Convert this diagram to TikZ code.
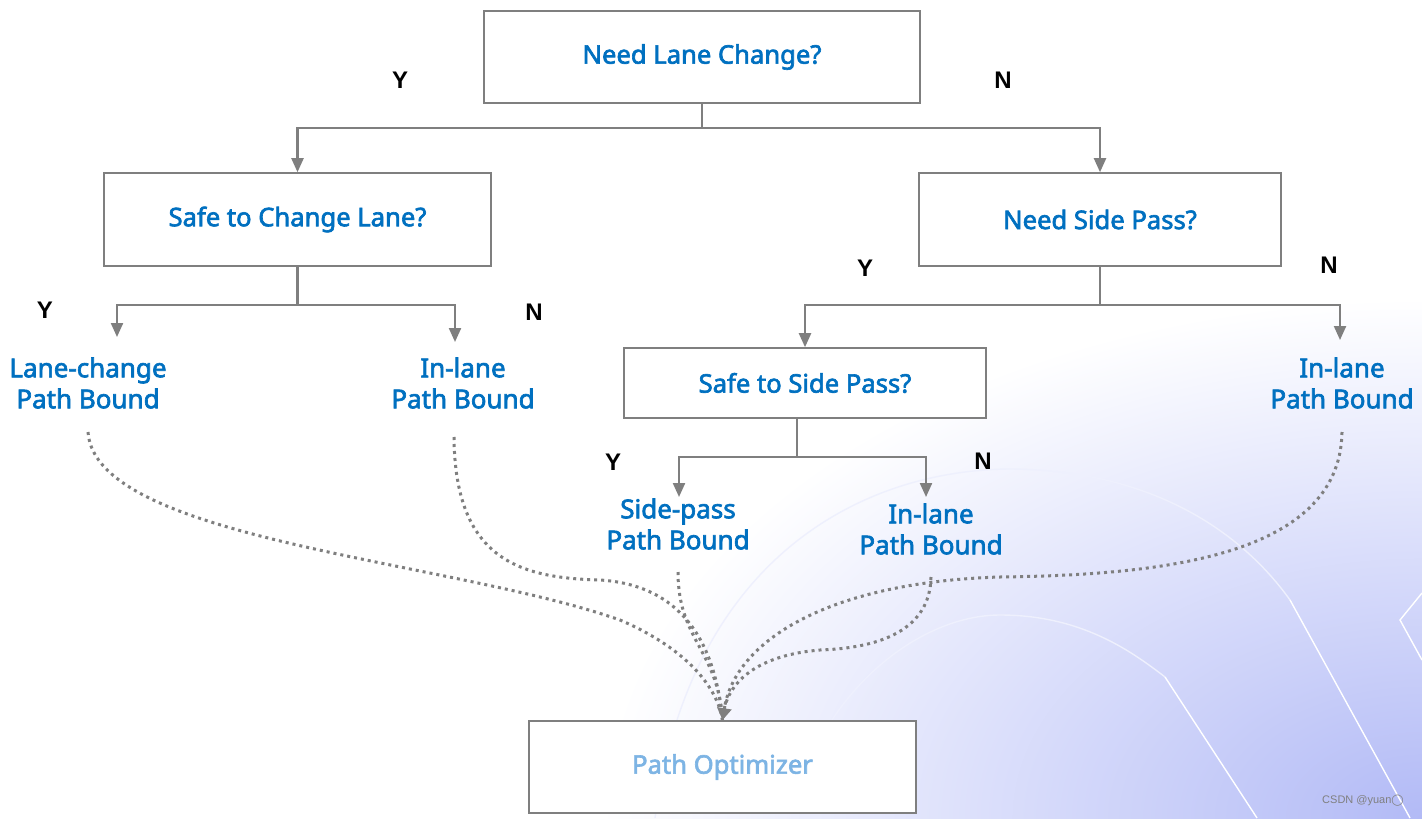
\documentclass[tikz,border=0pt]{standalone}
\usepackage{fontspec}
\setmainfont{Liberation Sans}
\newfontfamily\blfont[FakeBold=2.5]{Noto Sans}
\newfontfamily\symfont{DejaVu Sans}
\usetikzlibrary{arrows.meta,calc}
\definecolor{txtblue}{RGB}{0,112,192}
\definecolor{optblue}{RGB}{125,180,228}
\definecolor{lgray}{RGB}{127,127,127}
\definecolor{lav}{RGB}{178,186,246}
\definecolor{arcc}{RGB}{238,240,253}
\begin{document}
\begin{tikzpicture}[x=0.5pt,y=-0.5pt,
 box/.style={draw=lgray, fill=white, line width=0.8pt, inner sep=0pt, font=\blfont\fontsize{12.8}{15}\selectfont, text=txtblue},
 lbl/.style={font=\blfont\fontsize{13}{15.5}\selectfont, text=txtblue, align=center, inner sep=0pt},
 yn/.style={font=\fontsize{12}{14}\selectfont\bfseries, text=black, inner sep=0pt},
 conn/.style={draw=lgray, line width=1.1pt},
 arr/.style={conn, -{Triangle[width=6pt,length=7pt]}},
 dotl/.style={draw=lgray, line width=1.5pt, dash pattern=on 1.5pt off 2pt},
]
\useasboundingbox (0,0) rectangle (1422,818);
% background
\fill[white] (0,0) rectangle (1422,818);
\begin{scope}
\clip (0,0) rectangle (1422,818);
\shade[inner color=lav, outer color=white] (1422,818) ellipse (820 and 520);
\draw[arcc, line width=0.7pt] (655,818) .. controls (690,560) and (860,470) .. (1010,469) .. controls (1150,470) and (1240,530) .. (1290,600);
\draw[white, line width=0.7pt] (1290,600) -- (1410,818);
\draw[arcc, line width=0.7pt] (790,818) .. controls (820,690) and (920,615) .. (1000,615) .. controls (1080,615) and (1130,650) .. (1165,677);
\draw[white, line width=0.7pt] (1165,677) -- (1257,818);
\draw[white, line width=0.7pt] (1422,593) -- (1400,620) -- (1422,660);
\end{scope}

% boxes
\node[box, minimum width=218pt, minimum height=46pt] (top) at (702,57) {Need Lane Change?};
\node[box, minimum width=193.5pt, minimum height=46.5pt] (safeCL) at (297.5,219.5) {Safe to Change Lane?};
\node[box, minimum width=181pt, minimum height=46.5pt] (needSP) at (1100,219.5) {Need Side Pass?};
\node[box, minimum width=181pt, minimum height=35pt] (safeSP) at (805,383) {Safe to Side Pass?};
\node[box, minimum width=193.5pt, minimum height=46pt, text=optblue] (opt) at (722.5,767) {Path Optimizer};

% leaf labels
\node[lbl] (lcPB) at (88,383) {Lane-change\\Path Bound};
\node[lbl] (ilPBa) at (463,383) {In-lane\\Path Bound};
\node[lbl] (ilPBb) at (1342,383) {In-lane\\Path Bound};
\node[lbl] (spPB) at (678,524) {Side-pass\\Path Bound};
\node[lbl] (ilPBc) at (931,529) {In-lane\\Path Bound};

% Y / N
\node[yn] (y1) at (400,80) {Y};
\node[yn] (n1) at (1003,80) {N};
\node[yn] (y2) at (45,310) {Y};
\node[yn] (n2) at (534,312) {N};
\node[yn] (y3) at (865,268) {Y};
\node[yn] (n3) at (1329,265) {N};
\node[yn] (y4) at (613,462) {Y};
\node[yn] (n4) at (983,461) {N};

% tree connectors
\coordinate (j1) at (702,128);
\draw[conn] (top.south) -- (j1);
\draw[arr] (j1) -| (safeCL.north);
\draw[arr] (j1) -| (needSP.north);

\coordinate (j2) at (297.5,305);
\coordinate (e1) at (117,337);
\coordinate (e2) at (455,342);
\draw[conn] (safeCL.south) -- (j2);
\draw[arr] (j2) -| (e1);
\draw[arr] (j2) -| (e2);

\coordinate (j3) at (1100,305);
\coordinate (e3) at (1340,340);
\draw[conn] (needSP.south) -- (j3);
\draw[arr] (j3) -| (safeSP.north);
\draw[arr] (j3) -| (e3);

\coordinate (j4) at (797,457);
\coordinate (e4) at (679,497);
\coordinate (e5) at (926,497);
\draw[conn] (safeSP.south -| j4) -- (j4);
\draw[arr] (j4) -| (e4);
\draw[arr] (j4) -| (e5);

% dotted curves to optimizer
\coordinate (s1) at (88,432);
\coordinate (s2) at (454,437);
\coordinate (s3) at (678,572);
\coordinate (s4) at (931,577);
\coordinate (s5) at (1342,432);
\draw[dotl] (s1) .. controls (95,540) and (450,560) .. (620,620) .. controls (690,650) and (718,690) .. (opt.north);
\draw[dotl] (s2) .. controls (455,560) and (520,578) .. (600,580) .. controls (680,585) and (715,640) .. (opt.north);
\draw[dotl] (s3) .. controls (678,640) and (718,650) .. (opt.north);
\draw[dotl] (s4) .. controls (930,630) and (880,648) .. (820,650) .. controls (760,655) and (725,680) .. (opt.north);
\draw[dotl, -{Triangle[width=7pt,length=6pt]}] (s5) .. controls (1340,560) and (1150,575) .. (1000,577) .. controls (830,582) and (735,640) .. (opt.north);

% watermark
\node[font=\fontsize{5.5}{6}\selectfont, text=gray, inner sep=0pt] (wm) at (1363,801) {CSDN @yuan{\symfont ◯}};
\end{tikzpicture}
\end{document}
